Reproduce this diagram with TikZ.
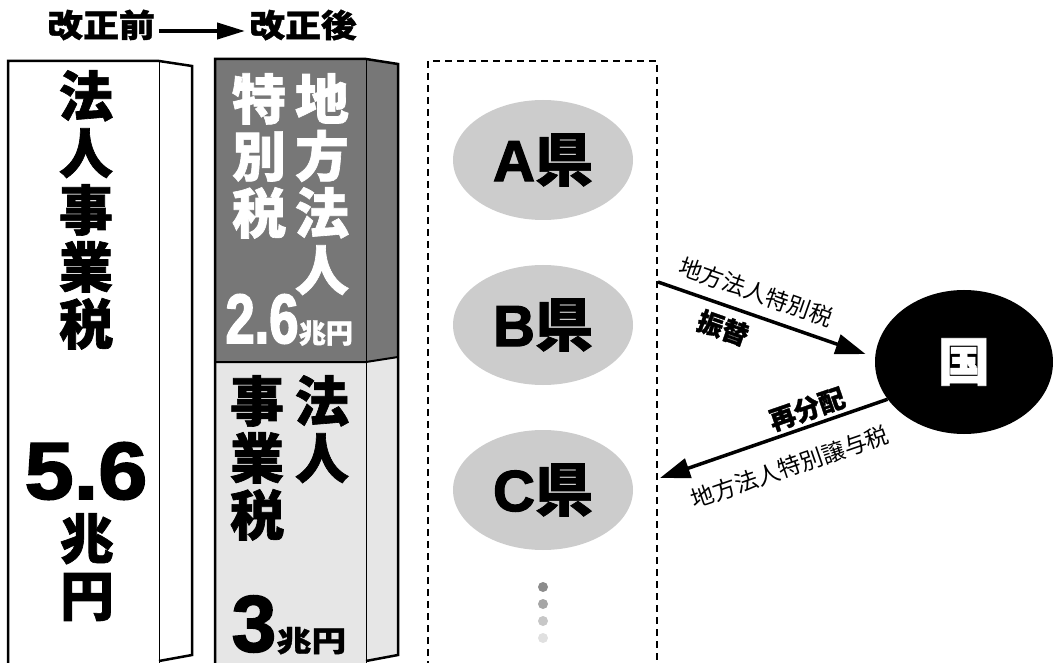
\documentclass[tikz,border=0pt]{standalone}
\usepackage{fontspec}
\setmainfont{Noto Sans CJK JP}[BoldFeatures={FakeBold=1.2}]
\newfontfamily\numfont{Liberation Sans}[BoldFeatures={FakeBold=2.2}]
\usetikzlibrary{arrows.meta,shapes.geometric}
\definecolor{tokubetsu}{HTML}{777777}
\definecolor{jigyou}{HTML}{E6E6E6}
\definecolor{kenfill}{HTML}{CCCCCC}
\tikzset{
  heading/.style={font=\bfseries\fontsize{32}{32}\selectfont\addfontfeature{FakeStretch=1.12,FakeBold=2.5}, inner sep=4pt},
  column/.style={font=\bfseries\fontsize{54}{57}\selectfont, align=center, anchor=north, inner sep=0pt},
  numtext/.style={inner sep=0pt},
  ken/.style={ellipse, fill=kenfill, minimum width=180pt, minimum height=120pt, inner sep=0pt,
    font=\bfseries\fontsize{58}{58}\selectfont},
  dot/.style={circle, minimum size=10pt, inner sep=0pt},
  bigarrow/.style={line width=3.5pt, -{Triangle[length=30pt,width=20pt]}},
  arrowlabel/.style={font=\fontsize{23}{23}\selectfont, inner sep=0pt},
  boldlabel/.style={font=\bfseries\fontsize{26}{26}\selectfont, inner sep=0pt}
}
\begin{document}
\begin{tikzpicture}[x=1pt,y=-1pt]
  \useasboundingbox (0,0) rectangle (1053,663);
  % heading
  \node[heading] (before) at (101,25) {改正前};
  \node[heading] (after) at (303,25) {改正後};
  \draw[line width=4pt,-{Triangle[length=28pt,width=16pt]}] ([yshift=-6pt]before.east) -- ([yshift=-6pt]after.west);
  % before bar
  \draw[line width=2.5pt] (8,680) -- (8,61) -- (159,61) -- (192,66) -- (192,655) -- (159,661);
  \draw[line width=0.8pt] (159,61) -- (159,680);
  % after bar
  \fill[tokubetsu] (215,59) rectangle (366,362);
  \fill[tokubetsu] (366,59) -- (398,64) -- (398,357) -- (366,362) -- cycle;
  \fill[jigyou] (215,362) rectangle (366,680);
  \fill[jigyou] (366,362) -- (398,357) -- (398,655) -- (366,661) -- cycle;
  \draw[line width=2.5pt] (215,680) -- (215,59) -- (366,59) -- (398,64) -- (398,655) -- (366,661);
  \draw[line width=2pt] (215,362) -- (366,362) -- (398,357);
  \draw[line width=0.8pt] (366,59) -- (366,680);
  % prefectures
  \draw[line width=1.3pt, dash pattern=on 7pt off 5pt] (428,680) -- (428,61) -- (657,61) -- (657,680);
  % texts in the bars
  \node[column] (zenName) at (86,70) {法\\人\\事\\業\\税};
  \node[numtext, font=\numfont\bfseries\fontsize{81}{81}\selectfont\addfontfeature{FakeStretch=1.09}] (zenGaku) at (86,471) {5.6};
  \node[column] (zenTani) at (87,513) {兆\\円};
  \node[column, white] (chihoName) at (322,73) {地\\方\\法\\人};
  \node[column, white] (tokuName) at (259,73) {特\\別\\税};
  \node[numtext, white, font=\numfont\bfseries\fontsize{70}{70}\selectfont\addfontfeature{FakeStretch=0.75}] (tokuGaku) at (262,319) {2.6};
  \node[numtext, white, anchor=base west, font=\bfseries\fontsize{27}{27}\selectfont] (tokuTani) at (tokuGaku.base east) {兆円};
  \node[column] (houjinName) at (322,375) {法\\人};
  \node[column] (jigyouName) at (257,375) {事\\業\\税};
  \node[numtext, font=\numfont\bfseries\fontsize{80}{80}\selectfont] (jigyouGaku) at (254,624) {3};
  \node[numtext, anchor=base west, font=\bfseries\fontsize{29}{29}\selectfont\addfontfeature{FakeStretch=1.2}] (jigyouTani) at (jigyouGaku.base east) {兆円};
  \node[ken] (kenA) at (543,160) {{\numfont A}県};
  \node[ken] (kenB) at (543,325) {{\numfont B}県};
  \node[ken] (kenC) at (543,490) {{\numfont C}県};
  \foreach \k/\c in {0/45,1/35,2/22,3/12}
    \node[dot, fill=black!\c] (dot\k) at (543,{587+17*\k}) {};
  % national government
  \node[ellipse, fill=black, minimum width=178pt, minimum height=144pt, text=white,
    font=\bfseries\fontsize{52}{52}\selectfont] (kuni) at (964,362) {国};
  \coordinate (furiS) at (658,282);
  \coordinate (haibunE) at (660,478);
  \draw[bigarrow, shorten >=10pt] (furiS) -- (kuni.177);
  \draw[bigarrow] (kuni.206) -- (haibunE);
  \node[arrowlabel, rotate=-19.4] (furiName) at (756,292) {地方法人特別税};
  \node[boldlabel, rotate=-19.4] (furi) at (723,328) {振替};
  \node[boldlabel, rotate=19] (haibun) at (807,409) {再分配};
  \node[arrowlabel, rotate=19] (jouyoName) at (790,467) {地方法人特別譲与税};
\end{tikzpicture}
\end{document}
